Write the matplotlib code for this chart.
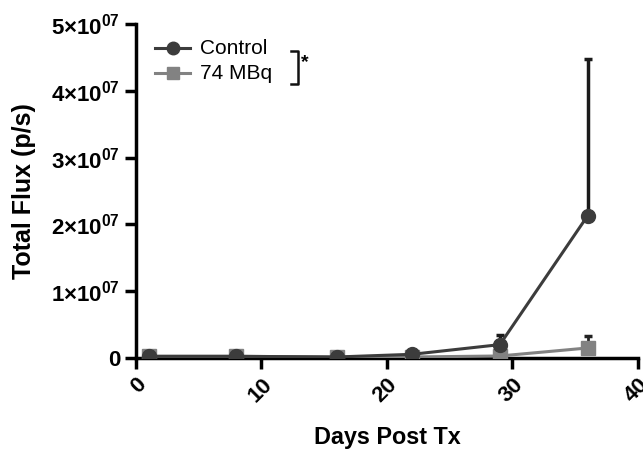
import numpy as np
import matplotlib as mpl
import matplotlib.pyplot as plt
from matplotlib.ticker import FixedLocator, FuncFormatter

plt.rcParams['font.family'] = ['Liberation Sans', 'DejaVu Sans']
plt.rcParams['font.weight'] = 'bold'
plt.rcParams['mathtext.fontset'] = 'custom'
plt.rcParams['mathtext.rm'] = 'Liberation Sans:bold'
plt.rcParams['mathtext.it'] = 'Liberation Sans:bold'
plt.rcParams['mathtext.bf'] = 'Liberation Sans:bold'

# data
days = [1, 8, 16, 22, 29, 36]
control = [2.5e5, 2.5e5, 1.5e5, 5.5e5, 2.0e6, 2.13e7]
control_err = [1e5, 1e5, 1e5, 2e5, 1.4e6, 2.35e7]
mbq = [2.5e5, 2.5e5, 1.5e5, 1.5e5, 3.0e5, 1.5e6]
mbq_err = [1e5, 1e5, 1e5, 1e5, 1e5, 1.8e6]

c_col = '#3c3c3c'
m_col = '#828282'

fig = plt.figure(figsize=(6.43, 4.49), dpi=100)
ax = fig.add_axes([0.2115, 0.2027, 0.7805, 0.7438])

ax.errorbar(days, mbq, yerr=[np.zeros(len(mbq_err)), mbq_err], color=m_col,
            ecolor='#222222', elinewidth=2, capsize=3, capthick=2.5,
            marker='s', markersize=10, lw=2.2, zorder=3)
ax.errorbar(days, control, yerr=[np.zeros(len(control_err)), control_err], color=c_col,
            ecolor='#1a1a1a', elinewidth=2.5, capsize=3, capthick=2.5,
            marker='o', markersize=10, lw=2.2, zorder=4)

ax.set_xlim(0, 40)
ax.set_ylim(0, 5e7)
ax.spines['top'].set_visible(False)
ax.spines['right'].set_visible(False)
for s in ['left', 'bottom']:
    ax.spines[s].set_linewidth(2.5)
ax.tick_params(width=2.5, length=8, direction='out', labelsize=16)
ax.xaxis.set_major_locator(FixedLocator([0, 10, 20, 30, 40]))
ax.yaxis.set_major_locator(FixedLocator([0, 1e7, 2e7, 3e7, 4e7, 5e7]))


def yfmt(v, pos):
    if v == 0:
        return '0'
    return r'$%d{\times}10^{07}$' % round(v / 1e7)


ax.yaxis.set_major_formatter(FuncFormatter(yfmt))
for lab in ax.get_xticklabels():
    lab.set_rotation(45)
    lab.set_ha('right')
    lab.set_va('top')
    lab.set_rotation_mode('anchor')
    lab.set_fontweight('bold')
for lab in ax.get_yticklabels():
    lab.set_fontweight('bold')

ax.set_xlabel('Days Post Tx', fontsize=16.8, fontweight='bold', labelpad=14)
ax.set_ylabel('Total Flux (p/s)', fontsize=18, fontweight='bold', labelpad=11)

# legend drawn by hand, with the significance bracket
tr = ax.transAxes
ax.plot([0.038, 0.108], [0.928, 0.928], color=c_col, lw=2.2, transform=tr, clip_on=False)
ax.plot([0.073], [0.928], marker='o', color=c_col, markersize=9, transform=tr, clip_on=False)
ax.plot([0.038, 0.108], [0.853, 0.853], color=m_col, lw=2.2, transform=tr, clip_on=False)
ax.plot([0.073], [0.853], marker='s', color=m_col, markersize=9, transform=tr, clip_on=False)
ax.text(0.128, 0.928, 'Control', transform=tr, fontsize=15, fontweight='normal', va='center')
ax.text(0.128, 0.853, '74 MBq', transform=tr, fontsize=15, fontweight='normal', va='center')
ax.plot([0.309, 0.323, 0.323, 0.309], [0.919, 0.919, 0.82, 0.82], color='#111111', lw=1.8,
        transform=tr, clip_on=False)
ax.text(0.328, 0.885, '*', transform=tr, fontsize=14, fontweight='bold', va='center')

fig.savefig('out.png', dpi=100)
